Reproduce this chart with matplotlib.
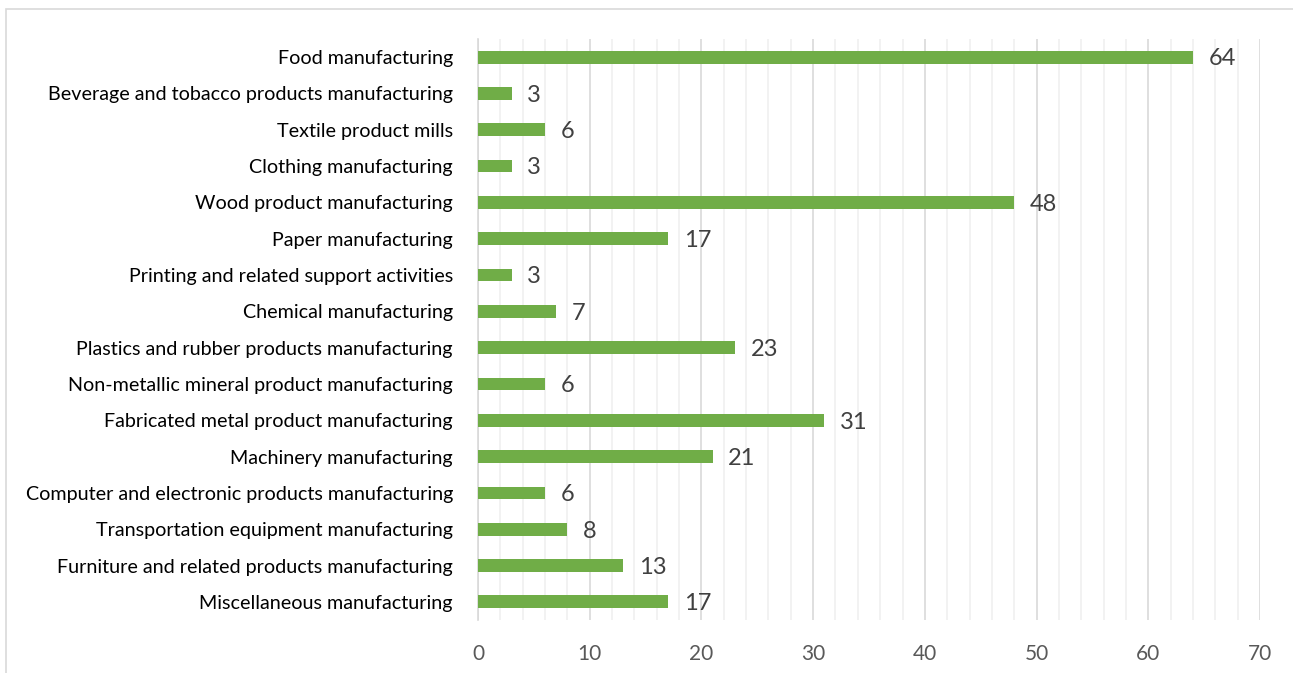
import numpy as np
from matplotlib import pyplot as plt
from matplotlib.ticker import MultipleLocator
from matplotlib.patches import Rectangle

categories = [
    "Food manufacturing",
    "Beverage and tobacco products manufacturing",
    "Textile product mills",
    "Clothing manufacturing",
    "Wood product manufacturing",
    "Paper manufacturing",
    "Printing and related support activities",
    "Chemical manufacturing",
    "Plastics and rubber products manufacturing",
    "Non-metallic mineral product manufacturing",
    "Fabricated metal product manufacturing",
    "Machinery manufacturing",
    "Computer and electronic products manufacturing",
    "Transportation equipment manufacturing",
    "Furniture and related products manufacturing",
    "Miscellaneous manufacturing",
]
values = [64, 3, 6, 3, 48, 17, 3, 7, 23, 6, 31, 21, 6, 8, 13, 17]

plt.rcParams['font.family'] = ['Lato', 'DejaVu Sans']

fig = plt.figure(figsize=(12.93, 6.73), dpi=100)
ax = fig.add_axes([478/1293, 1 - 620/673, (1260-478)/1293, (620-39)/673])

y = np.arange(len(categories))
ax.barh(y, values, height=0.35, color='#70ad47', zorder=3)
for yi, v in zip(y, values):
    ax.text(v + 1.4, yi + 0.05, str(v), va='center', ha='left', fontsize=17, color='#404040')

ax.set_ylim(len(categories) - 0.5, -0.5)
ax.set_xlim(0, 70)
ax.set_yticks(y)
ax.set_yticklabels(categories, fontsize=14.2, color='black')
ax.xaxis.set_major_locator(MultipleLocator(10))
ax.xaxis.set_minor_locator(MultipleLocator(2))
ax.grid(axis='x', which='major', color='#d9d9d9', lw=1.2, zorder=0)
ax.grid(axis='x', which='minor', color='#f0f0f0', lw=1.2, zorder=0)
ax.tick_params(axis='x', which='both', length=0, labelsize=15, labelcolor='#595959', pad=17)
ax.tick_params(axis='y', length=0, pad=18)
for s in ['top', 'right', 'bottom']:
    ax.spines[s].set_visible(False)
ax.spines['left'].set_color('#d9d9d9')
ax.spines['left'].set_linewidth(1.2)

fig.patches.append(Rectangle((6/1293, -0.01), 1.1, 1 - 9/673 + 0.01, transform=fig.transFigure,
                             fill=False, edgecolor='#d9d9d9', lw=1.2))

fig.savefig('out.png', dpi=100)
